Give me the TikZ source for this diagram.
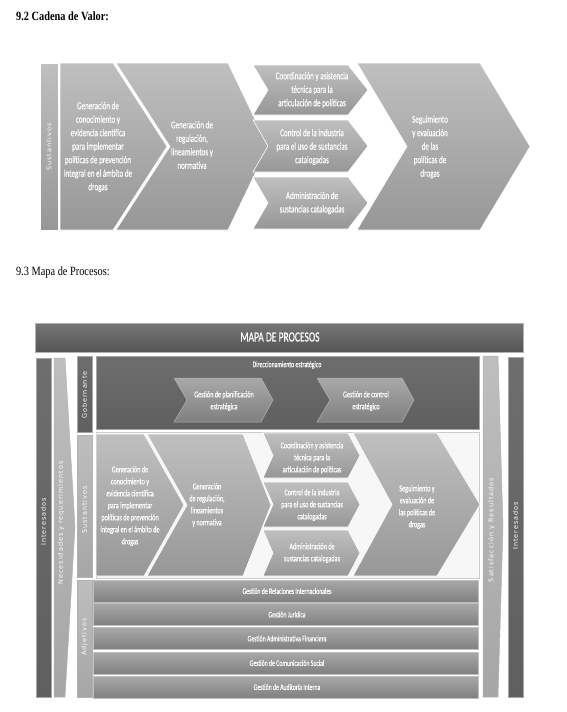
\documentclass[tikz,border=0pt]{standalone}
\usepackage{fontspec}
\setmainfont{Carlito}
\newfontfamily\cf[FakeStretch=0.68,FakeBold=0.35]{Carlito}
\newfontfamily\sfl[LetterSpace=15]{DejaVu Sans}
\newfontfamily\tserif[FakeStretch=0.82]{Liberation Serif}
\definecolor{gA}{HTML}{BFBFBF}
\definecolor{gB}{HTML}{979797}
\definecolor{dk1}{HTML}{6E6E6E}
\definecolor{dk2}{HTML}{5F5F5F}
\definecolor{lt1}{HTML}{BEBEBE}
\definecolor{lt2}{HTML}{A6A6A6}
\definecolor{md1}{HTML}{A8A8A8}
\definecolor{md2}{HTML}{808080}
\newcommand{\mychev}[7]{\path[#1] (#2,#4) -- ({#3-#7},#4) -- (#3,{(#4+#5)/2}) -- ({#3-#7},#5) -- (#2,#5) -- ({#2+#6},{(#4+#5)/2}) -- cycle;}
\tikzset{
  shp/.style={top color=gA, bottom color=gB, draw=white, line width=0.6pt},
  gch/.style={top color=md1, bottom color=md2, draw=gray!60, line width=0.5pt},
  rowbox/.style={top color=md1, bottom color=md2, draw=gray!50, line width=0.5pt},
  darkbar/.style={top color=dk1, bottom color=dk2, draw=gray!70, line width=0.5pt},
  lightbar/.style={top color=lt1, bottom color=lt2, draw=gray!60, line width=0.5pt},
  lbl/.style={text=white, align=center, inner sep=0pt, font=\cf\fontsize{10.4}{13.5}\selectfont},
  mlbl/.style={text=white, align=center, inner sep=0pt, font=\cf\fontsize{9}{12}\selectfont},
  rlbl/.style={text=white, align=center, inner sep=0pt, font=\cf\fontsize{8.5}{10}\selectfont},
  vlbl/.style={text=white, rotate=90, inner sep=0pt, font=\sfl\fontsize{6.5}{8}\selectfont},
  ttl/.style={anchor=base west, inner sep=0pt, font=\tserif\fontsize{12.6}{14}\selectfont}
}
\begin{document}
\begin{tikzpicture}[x=1pt,y=-1pt]
\useasboundingbox (0,0) rectangle (567,712);
\fill[white] (0,0) rectangle (567,712);

% ---------- 9.2 Cadena de Valor ----------
\node[ttl] (title1) at (16,20) {\bfseries 9.2 Cadena de Valor:};
\path[shp] (40,63) rectangle (58,230);
\node[vlbl] (s1sust) at (49,147) {Sustantivos};
\mychev{shp}{60}{167}{63}{230}{0}{54}
\mychev{shp}{116}{268}{63}{230}{54}{40}
\mychev{shp}{253}{368}{65}{115}{15}{20}
\mychev{shp}{253}{368}{120}{172}{15}{20}
\mychev{shp}{253}{368}{177}{229}{15}{20}
\mychev{shp}{357}{530}{63}{230}{50}{50}
\node[lbl] (s1a) at (98,147) {Generación de\\conocimiento y\\evidencia científica\\para implementar\\políticas de prevención\\integral en el ámbito de\\drogas};
\node[lbl] (s1b) at (192,145) {Generación de\\regulación,\\lineamientos y\\normativa};
\node[lbl] (s1c1) at (312,90) {Coordinación y asistencia\\técnica para la\\articulación de políticas};
\node[lbl] (s1c2) at (312,147) {Control de la industria\\para el uso de sustancias\\catalogadas};
\node[lbl] (s1c3) at (312,203) {Administración de\\sustancias catalogadas};
\node[lbl] (s1d) at (430,147) {Seguimiento\\y evaluación\\de las\\políticas de\\drogas};

% ---------- 9.3 Mapa de Procesos ----------
\node[ttl] (title2) at (16,275) {9.3 Mapa de Procesos:};
\path[top color=dk1!95, bottom color=dk2!90!black, draw=gray!60] (35,323) rectangle (523,352);
\node[text=white, inner sep=0pt, font=\cf\fontsize{14}{16}\selectfont] (hdr) at (280,337) {MAPA DE PROCESOS};

% side bars
\path[darkbar] (36,358) rectangle (51,697);
\node[vlbl] (intL) at (43.5,522) {Interesados};
\path[lightbar] (54,358) -- (65,358) -- (75,527) -- (65,697) -- (54,697) -- cycle;
\node[vlbl] (nec) at (61,523) {Necesidades y requerimientos};
\path[darkbar] (77,356) rectangle (92,432);
\node[vlbl] (gob) at (84.5,395) {Gobernante};
\path[lightbar] (77,435) rectangle (92,577);
\node[vlbl] (sust) at (84.5,510) {Sustantivos};
\path[lightbar] (77,580) rectangle (92,697);
\node[vlbl] (adj) at (84.5,637) {Adjetivos};
\path[lightbar] (483,356) -- (498,356) -- (503,527) -- (498,697) -- (483,697) -- cycle;
\node[vlbl] (sat) at (491.5,530) {Satisfacción y Resultados};
\path[darkbar] (508,357) rectangle (523,697);
\node[vlbl] (intR) at (515.5,526) {Interesados};

% gobernante panel
\path[darkbar] (96,356) rectangle (479,429);
\node[text=white, inner sep=0pt, font=\cf\fontsize{8.5}{10}\selectfont] (dir) at (287,365) {Direccionamiento estratégico};
\mychev{gch}{174}{273}{378}{422}{13}{12}
\mychev{gch}{317}{414}{378}{422}{13}{12}
\node[mlbl] (plan) at (224,401) {Gestión de planificación\\estratégica};
\node[mlbl] (ctrl) at (366,401) {Gestión de control\\estratégico};

% sustantivos panel
\path[fill=gray!6, draw=gray!40] (96,432) rectangle (479,578);
\mychev{shp}{96}{184}{434}{576}{0}{40}
\mychev{shp}{147}{271}{434}{576}{40}{28}
\mychev{shp}{263}{360}{433}{478}{10}{12}
\mychev{shp}{263}{360}{482}{527}{10}{12}
\mychev{shp}{263}{360}{530}{576}{10}{12}
\mychev{shp}{353}{480}{433}{576}{39}{43}
\node[mlbl] (m1) at (130,506) {Generación de\\conocimiento y\\evidencia científica\\para implementar\\políticas de prevención\\integral en el ámbito de\\drogas};
\node[mlbl] (m2) at (207,505) {Generación\\de regulación,\\lineamientos\\y normativa};
\node[mlbl] (m3) at (312,458) {Coordinación y asistencia\\técnica para la\\articulación de políticas};
\node[mlbl] (m4) at (312,505) {Control de la industria\\para el uso de sustancias\\catalogadas};
\node[mlbl] (m5) at (312,553) {Administración de\\sustancias catalogadas};
\node[mlbl] (m6) at (417,507) {Seguimiento y\\evaluación de\\las políticas de\\drogas};

% adjetivos rows
\path[rowbox] (93,580) rectangle (478,602);
\path[rowbox] (93,603.5) rectangle (478,625.5);
\path[rowbox] (93,627.5) rectangle (478,649.5);
\path[rowbox] (93,652) rectangle (478,674);
\path[rowbox] (93,676) rectangle (478,698);
\node[rlbl] (r1) at (287,591) {Gestión de Relaciones Internacionales};
\node[rlbl] (r2) at (287,614.5) {Gestión Jurídica};
\node[rlbl] (r3) at (287,638.5) {Gestión Administrativa Financiera};
\node[rlbl] (r4) at (287,663) {Gestión de Comunicación Social};
\node[rlbl] (r5) at (287,687) {Gestión de Auditoría Interna};
\end{tikzpicture}
\end{document}
